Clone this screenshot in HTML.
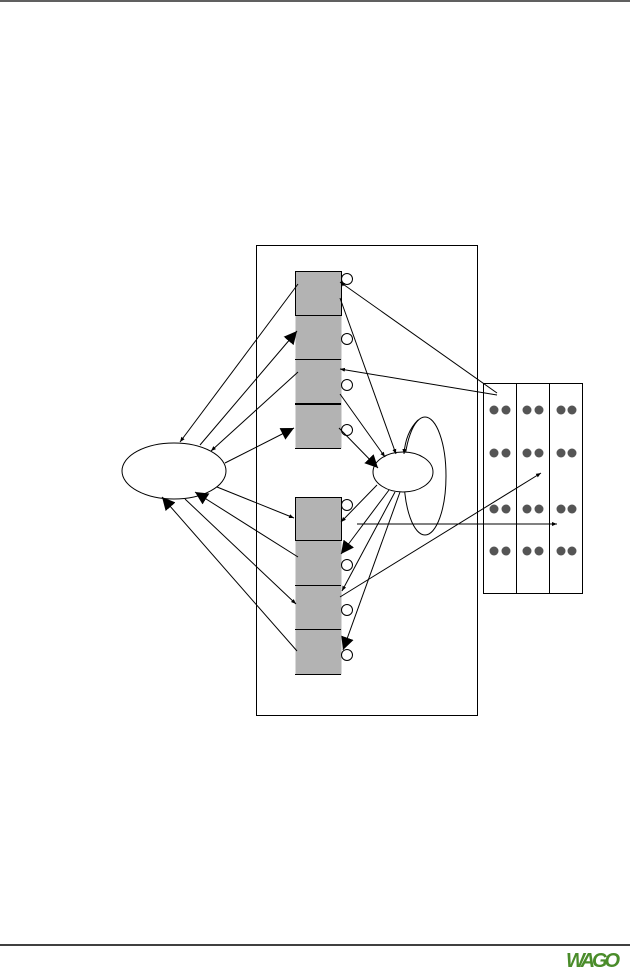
<!DOCTYPE html>
<html><head><meta charset="utf-8"><style>
html,body{margin:0;padding:0;background:#fff;width:630px;height:970px;overflow:hidden}
svg{display:block}
</style></head><body>
<svg width="630" height="970" viewBox="0 0 630 970" xmlns="http://www.w3.org/2000/svg">
<defs>
<marker id="s" viewBox="0 0 10 10" refX="10" refY="5" markerWidth="5" markerHeight="5" orient="auto" markerUnits="userSpaceOnUse"><path d="M0,1 L10,5 L0,9 z" fill="#000"/></marker>
<marker id="b" viewBox="0 0 10 10" refX="10" refY="5" markerWidth="13" markerHeight="13" orient="auto" markerUnits="userSpaceOnUse"><path d="M0,0 L10,5 L0,10 z" fill="#000"/></marker>
</defs>
<line x1="0" y1="1" x2="630" y2="1" stroke="#000" stroke-width="1.2"/>
<line x1="0" y1="945" x2="630" y2="945" stroke="#000" stroke-width="1.5"/>
<text x="566" y="967" font-family="Liberation Sans, sans-serif" font-weight="bold" font-style="italic" font-size="20" fill="#4a8c2a" textLength="54">WAGO</text>

<rect x="256.5" y="245.5" width="221" height="470" fill="none" stroke="#000"/>

<rect x="295.5" y="271.5" width="46" height="177" fill="#b3b3b3"/>
<rect x="295.5" y="271.5" width="46" height="44" fill="none" stroke="#000"/>
<line x1="295" y1="359.5" x2="341" y2="359.5" stroke="#000"/>
<line x1="295" y1="404" x2="341" y2="404" stroke="#000" stroke-width="2"/>
<line x1="295" y1="448.5" x2="341" y2="448.5" stroke="#000"/>

<rect x="295.5" y="497.5" width="46" height="177" fill="#b3b3b3"/>
<rect x="295.5" y="497.5" width="46" height="43" fill="none" stroke="#000"/>
<line x1="295" y1="585.5" x2="341" y2="585.5" stroke="#000"/>
<line x1="295" y1="629.5" x2="341" y2="629.5" stroke="#000"/>
<line x1="295" y1="674.5" x2="341" y2="674.5" stroke="#000"/>

<g fill="#fff" stroke="#000">
<circle cx="347" cy="279" r="5.5"/><circle cx="347" cy="339" r="5.5"/><circle cx="347" cy="385" r="5.5"/><circle cx="347" cy="430" r="5.5"/>
<circle cx="347" cy="505" r="5.5"/><circle cx="347" cy="565" r="5.5"/><circle cx="347" cy="610" r="5.5"/><circle cx="347" cy="655" r="5.5"/>
</g>

<ellipse cx="174" cy="471" rx="52" ry="28" fill="#fff" stroke="#000"/>
<ellipse cx="425" cy="476" rx="21" ry="59" fill="none" stroke="#000"/>
<ellipse cx="403" cy="472" rx="30" ry="20" fill="#fff" stroke="#000"/>

<rect x="483.5" y="383.5" width="99" height="210" fill="#fff" stroke="#000"/>
<line x1="516.5" y1="383" x2="516.5" y2="593" stroke="#000"/>
<line x1="549.5" y1="383" x2="549.5" y2="593" stroke="#000"/>
<g fill="#555">
<circle cx="494" cy="410" r="4.5"/><circle cx="506" cy="410" r="4.5"/><circle cx="527" cy="410" r="4.5"/><circle cx="539" cy="410" r="4.5"/><circle cx="561" cy="410" r="4.5"/><circle cx="572" cy="410" r="4.5"/>
<circle cx="494" cy="453" r="4.5"/><circle cx="506" cy="453" r="4.5"/><circle cx="527" cy="453" r="4.5"/><circle cx="539" cy="453" r="4.5"/><circle cx="561" cy="453" r="4.5"/><circle cx="572" cy="453" r="4.5"/>
<circle cx="494" cy="509" r="4.5"/><circle cx="506" cy="509" r="4.5"/><circle cx="527" cy="509" r="4.5"/><circle cx="539" cy="509" r="4.5"/><circle cx="561" cy="509" r="4.5"/><circle cx="572" cy="509" r="4.5"/>
<circle cx="494" cy="551" r="4.5"/><circle cx="506" cy="551" r="4.5"/><circle cx="527" cy="551" r="4.5"/><circle cx="539" cy="551" r="4.5"/><circle cx="561" cy="551" r="4.5"/><circle cx="572" cy="551" r="4.5"/>
</g>

<g stroke="#000" stroke-width="1" fill="none">
<line x1="298" y1="284" x2="180" y2="442" marker-end="url(#s)"/>
<line x1="200" y1="445" x2="297" y2="331" marker-end="url(#b)"/>
<line x1="298" y1="372" x2="211" y2="451" marker-end="url(#s)"/>
<line x1="225" y1="463" x2="294" y2="428" marker-end="url(#b)"/>
<line x1="217" y1="487" x2="294" y2="518" marker-end="url(#s)"/>
<line x1="298" y1="557" x2="195" y2="492" marker-end="url(#b)"/>
<line x1="185" y1="499" x2="296" y2="604" marker-end="url(#s)"/>
<line x1="297" y1="651" x2="162" y2="497" marker-end="url(#b)"/>

<line x1="340" y1="298" x2="396" y2="454" marker-end="url(#s)"/>
<line x1="340" y1="394" x2="385" y2="457" marker-end="url(#s)"/>
<line x1="339" y1="428" x2="378" y2="468" marker-end="url(#b)"/>
<line x1="497" y1="393" x2="340" y2="282" marker-end="url(#s)"/>
<line x1="497" y1="395" x2="340" y2="369" marker-end="url(#s)"/>
<path d="M418,420 C410,428 405,440 404,454" marker-end="url(#s)"/>

<line x1="377" y1="485" x2="341" y2="522" marker-end="url(#s)"/>
<line x1="389" y1="490" x2="341" y2="554" marker-end="url(#b)"/>
<line x1="395" y1="492" x2="342" y2="591" marker-end="url(#s)"/>
<line x1="400" y1="492" x2="343" y2="650" marker-end="url(#b)"/>
<line x1="340" y1="597" x2="541" y2="473" marker-end="url(#s)"/>
<line x1="357" y1="524" x2="557" y2="524" marker-end="url(#s)"/>
</g>
</svg>
</body></html>
